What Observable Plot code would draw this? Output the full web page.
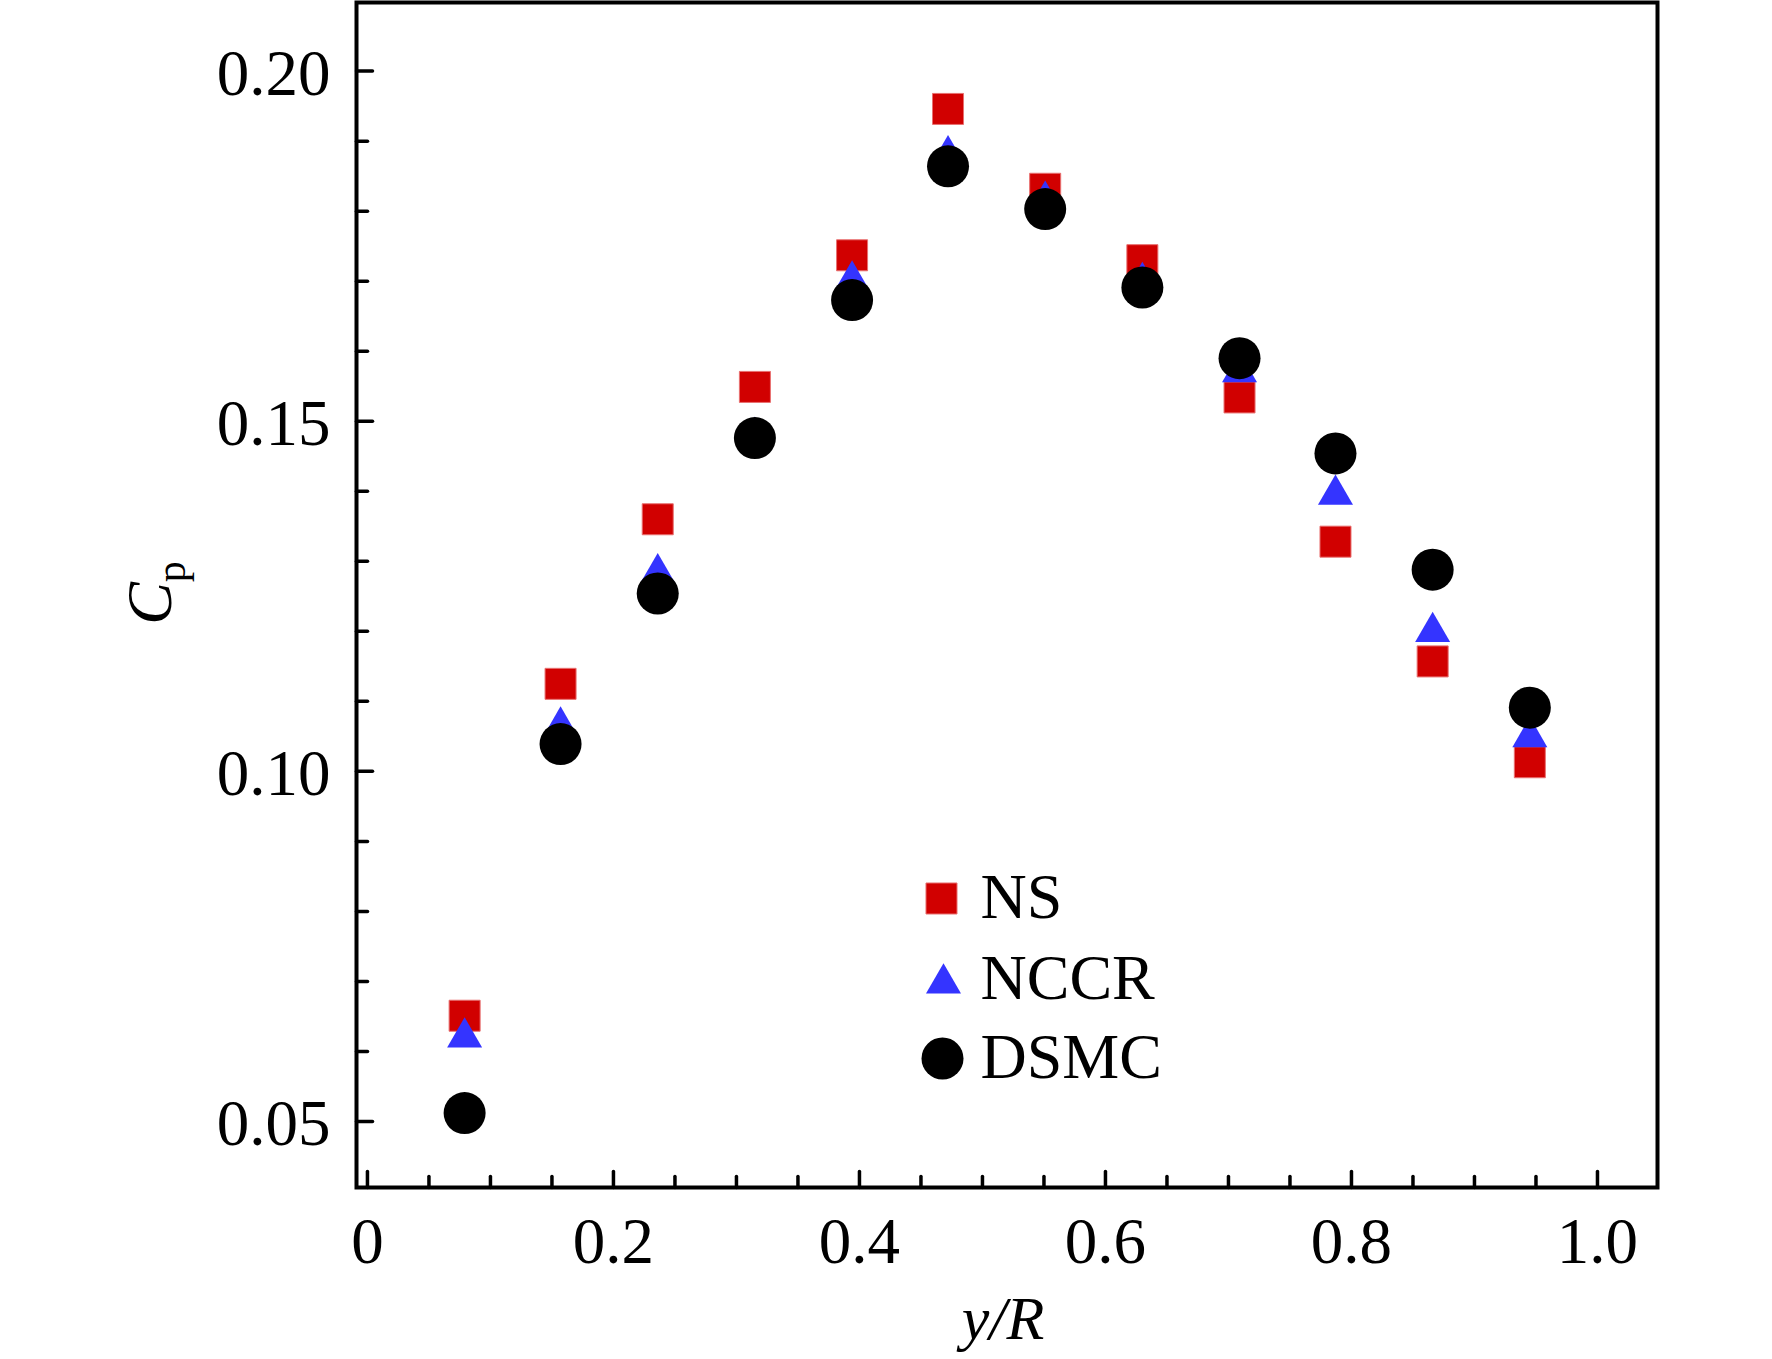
<!DOCTYPE html>
<html>
<head>
<meta charset="utf-8">
<script src="https://cdn.jsdelivr.net/npm/d3@7"></script>
<script src="https://cdn.jsdelivr.net/npm/@observablehq/plot@0.6"></script>
<style>
  html, body { margin: 0; padding: 0; background: #fff; }
  #chart svg { display: block; }
</style>
</head>
<body>
<div id="chart"></div>
<script>
// ---- data ----
const yR   = [0.079, 0.157, 0.236, 0.315, 0.394, 0.472, 0.551, 0.630, 0.709, 0.787, 0.866, 0.945];
const NS   = [0.0651, 0.1125, 0.1360, 0.1549, 0.1737, 0.1946, 0.1832, 0.1730, 0.1534, 0.1328, 0.1157, 0.1013];
const NCCR = [0.0620, 0.1064, 0.1283, 0.1478, 0.1701, 0.1880, 0.1815, 0.1699, 0.1570, 0.1395, 0.1199, 0.1049];
const DSMC = [0.0512, 0.1039, 0.1254, 0.1476, 0.1673, 0.1864, 0.1803, 0.1691, 0.1590, 0.1454, 0.1288, 0.1091];

const seriesNames = ["NS", "NCCR", "DSMC"];
const xMajorTicks = [0, 0.2, 0.4, 0.6, 0.8, 1.0];
const xMinorTicks = [0.05, 0.1, 0.15, 0.25, 0.3, 0.35, 0.45, 0.5, 0.55, 0.65, 0.7, 0.75, 0.85, 0.9, 0.95];
const yMajorTicks = [0.05, 0.10, 0.15, 0.20];
const yMinorTicks = [0.06, 0.07, 0.08, 0.09, 0.11, 0.12, 0.13, 0.14, 0.16, 0.17, 0.18, 0.19];

const rows = (vals) => yR.map((x, i) => ({x, y: vals[i]}));
const nsData = rows(NS), nccrData = rows(NCCR), dsmcData = rows(DSMC);

const RED = "#d10000", BLUE = "#3434ff", BLACK = "#000000";
const FONT = "'Liberation Serif', 'Times New Roman', serif";

// inward tick shape for vector marks
const tickShape = { draw(ctx, l) { ctx.moveTo(0, 0); ctx.lineTo(0, -l); } };

const svg = Plot.plot({
  width: 1772,
  height: 1359,
  marginLeft: 356,
  marginRight: 115,
  marginTop: 2,
  marginBottom: 172,
  x: { domain: [-0.0089, 1.0488], label: null },
  y: { domain: [0.04057, 0.2098], label: null },
  style: { fontFamily: FONT, background: "white", color: "black" },
  marks: [
    // ticks (inward)
    Plot.vector(xMajorTicks, { x: d => d, frameAnchor: "bottom", length: 16, rotate: 0, anchor: "start", shape: tickShape, stroke: BLACK, strokeWidth: 3.5 }),
    Plot.vector(xMinorTicks, { x: d => d, frameAnchor: "bottom", length: 11, rotate: 0, anchor: "start", shape: tickShape, stroke: BLACK, strokeWidth: 3.5 }),
    Plot.vector(yMajorTicks, { y: d => d, frameAnchor: "left", length: 16, rotate: 90, anchor: "start", shape: tickShape, stroke: BLACK, strokeWidth: 3.5 }),
    Plot.vector(yMinorTicks, { y: d => d, frameAnchor: "left", length: 11, rotate: 90, anchor: "start", shape: tickShape, stroke: BLACK, strokeWidth: 3.5 }),
    // tick labels
    Plot.axisX({ ticks: xMajorTicks, tickSize: 0, tickPadding: 29, fontSize: 65, tickFormat: d => d === 0 ? "0" : d.toFixed(1), label: null }),
    Plot.axisY({ ticks: yMajorTicks, tickSize: 0, tickPadding: 26, fontSize: 65, dy: 3, tickFormat: d => d.toFixed(2), label: null }),
    // axis titles
    Plot.text(["y/R"], { frameAnchor: "bottom", dx: -4, dy: 151, lineAnchor: "bottom", fontSize: 62, fontStyle: "italic", fill: BLACK }),
    Plot.text(["C"], { frameAnchor: "left", dx: -186, dy: -2, rotate: -90, textAnchor: "middle", lineAnchor: "bottom", fontSize: 64, fill: BLACK }),
    // data
    Plot.dot(nsData, { x: "x", y: "y", symbol: "square", r: 17.5, fill: RED, stroke: "#e87070", strokeWidth: 1 }),
    Plot.dot(nccrData, { x: "x", y: "y", symbol: "triangle", r: 13, fill: BLUE }),
    Plot.dot(dsmcData, { x: "x", y: "y", symbol: "circle", r: 21, fill: BLACK }),
    // legend
    Plot.dot([seriesNames[0]], { frameAnchor: "top-left", dx: 585, dy: 896, symbol: "square", r: 17.5, fill: RED, stroke: "#e87070", strokeWidth: 1 }),
    Plot.dot([seriesNames[1]], { frameAnchor: "top-left", dx: 587, dy: 981, symbol: "triangle", r: 13, fill: BLUE }),
    Plot.dot([seriesNames[2]], { frameAnchor: "top-left", dx: 586, dy: 1056, symbol: "circle", r: 21, fill: BLACK }),
    Plot.text([seriesNames[0]], { frameAnchor: "top-left", dx: 624, dy: 915, textAnchor: "start", lineAnchor: "bottom", fontSize: 64, fill: BLACK }),
    Plot.text([seriesNames[1]], { frameAnchor: "top-left", dx: 624, dy: 996, textAnchor: "start", lineAnchor: "bottom", fontSize: 64, fill: BLACK }),
    Plot.text([seriesNames[2]], { frameAnchor: "top-left", dx: 624, dy: 1075, textAnchor: "start", lineAnchor: "bottom", fontSize: 64, fill: BLACK }),
    // frame
    Plot.frame({ stroke: BLACK, strokeWidth: 4 })
  ]
});

// y-axis title with subscript: C (italic) + p (upright, subscript)
d3.select(svg).selectAll("text")
  .filter(function () { return this.textContent === "C"; })
  .each(function () {
    const t = d3.select(this);
    t.text(null);
    t.append("tspan").attr("font-style", "italic").text("C");
    t.append("tspan").attr("font-style", "normal").attr("font-size", 42).attr("dy", 14).text("p");
  });

document.getElementById("chart").appendChild(svg);
</script>
</body>
</html>
